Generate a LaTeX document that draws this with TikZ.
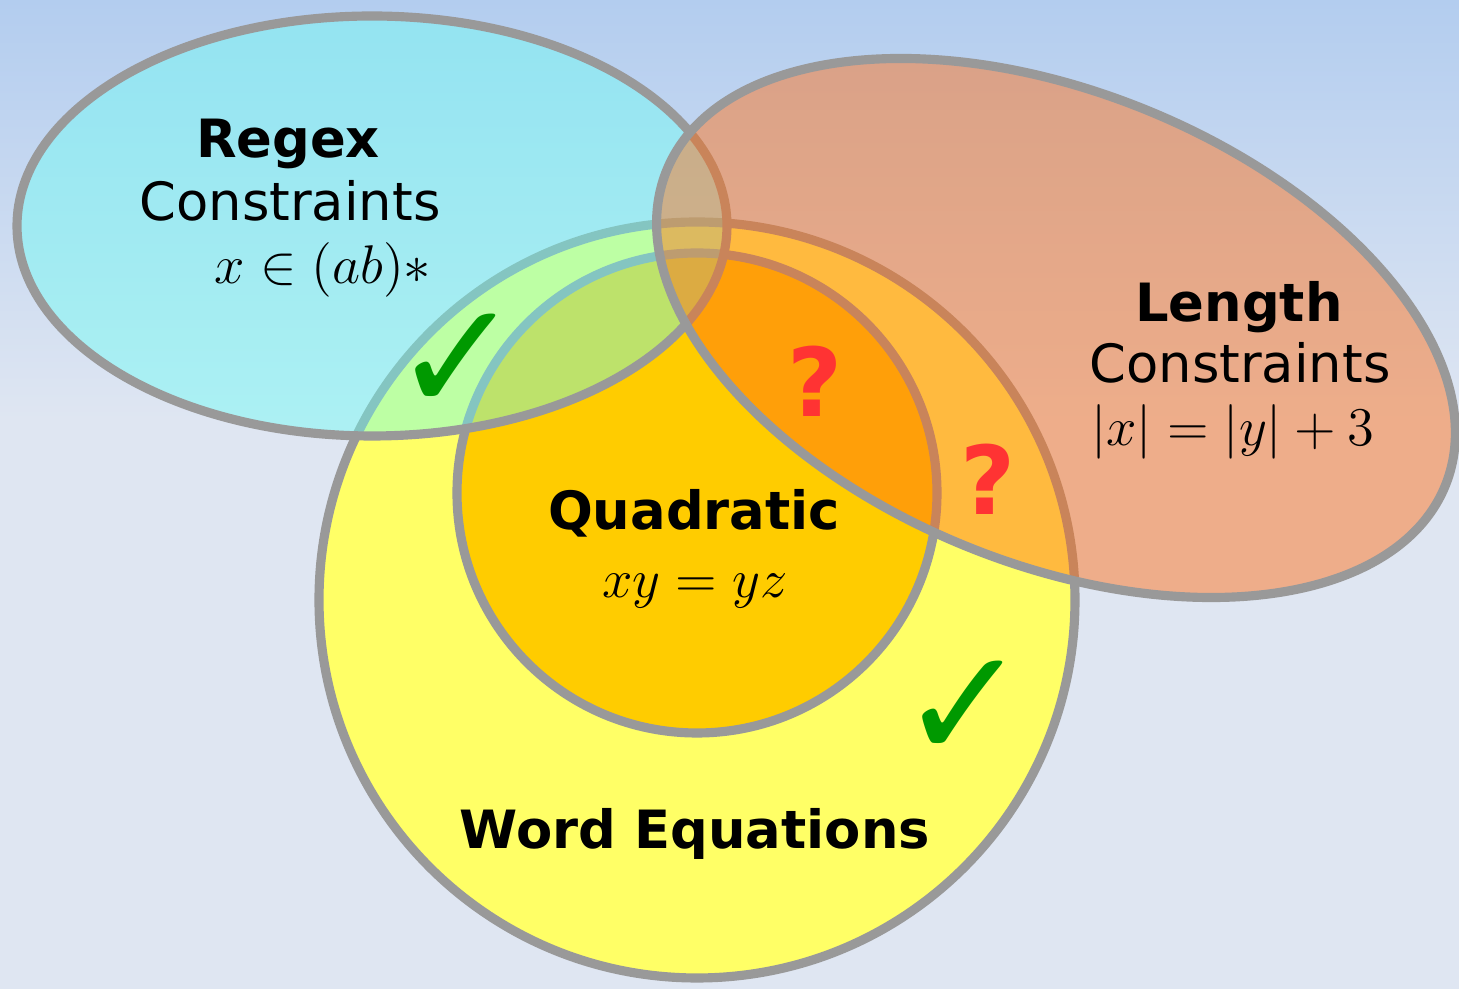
\documentclass[tikz,border=0pt]{standalone}
\usepackage{fix-cm}
\usepackage{fontspec}
\setmainfont{DejaVu Sans}
\usepackage{xcolor}
\usetikzlibrary{positioning}
\definecolor{skytop}{RGB}{179,205,239}
\definecolor{skylow}{RGB}{223,230,242}
\definecolor{ringgray}{RGB}{153,153,153}
\definecolor{wordyellow}{RGB}{255,255,102}
\definecolor{quadorange}{RGB}{255,204,0}
\definecolor{regexcyan}{RGB}{107,255,245}
\definecolor{lenorange}{RGB}{255,110,21}
\definecolor{tickgreen}{RGB}{0,153,0}
\definecolor{askred}{RGB}{255,51,51}

\begin{document}
\begin{tikzpicture}[x=0.01cm,y=-0.01cm,
  ring/.style={draw=ringgray,line width=2.6pt},
  title/.style={font=\bfseries\fontsize{15}{18}\selectfont,anchor=base},
  sub/.style={font=\fontsize{15}{18}\selectfont,anchor=base},
  formula/.style={font=\fontsize{15.5}{18}\selectfont,anchor=base},
  tick/.style={text=tickgreen,font=\bfseries\fontsize{44}{44}\selectfont},
  unknown/.style={text=askred,font=\bfseries\fontsize{27}{27}\selectfont,anchor=base}]
\useasboundingbox (0,0) rectangle (1459,989);
% Background
\shade[top color=skytop,bottom color=skylow] (0,0) rectangle (1459,420);
\fill[skylow] (0,419) rectangle (1459,989);
% Word equations and the quadratic ones inside
\draw[ring,fill=wordyellow] (697,600) circle (378);
\draw[ring,fill=quadorange] (697,493) circle (240);
% Regex constraints
\draw[ring,fill=regexcyan,fill opacity=0.44] (372,226)
  ellipse [x radius=355, y radius=210];
% Length constraints
\draw[ring,fill=lenorange,fill opacity=0.47,rotate around={-22:(1056,328)}]
  (1056,328) ellipse [x radius=420, y radius=236];
% Labels
\node[title] (regex) at (288,158) {Regex};
\node[sub] (regexsub) at (290,221) {Constraints};
\node[formula] (regexeq) at (323,284) {$x \in (ab)*$};
\node[title] (length) at (1239,322) {Length};
\node[sub] (lengthsub) at (1240,383) {Constraints};
\node[formula] (lengtheq) at (1233,446) {$|x| = |y| + 3$};
\node[title] (quad) at (694,530) {Quadratic};
\node[formula] (quadeq) at (695,598) {$xy = yz$};
\node[title] (word) at (695,849) {Word Equations};
% Marks
\node[tick] (tickregex) at (457,363) {✓};
\node[tick] (tickword) at (964,710) {✓};
\node[unknown] (askquad) at (815,417) {?};
\node[unknown] (askword) at (988,515) {?};
\end{tikzpicture}
\end{document}
